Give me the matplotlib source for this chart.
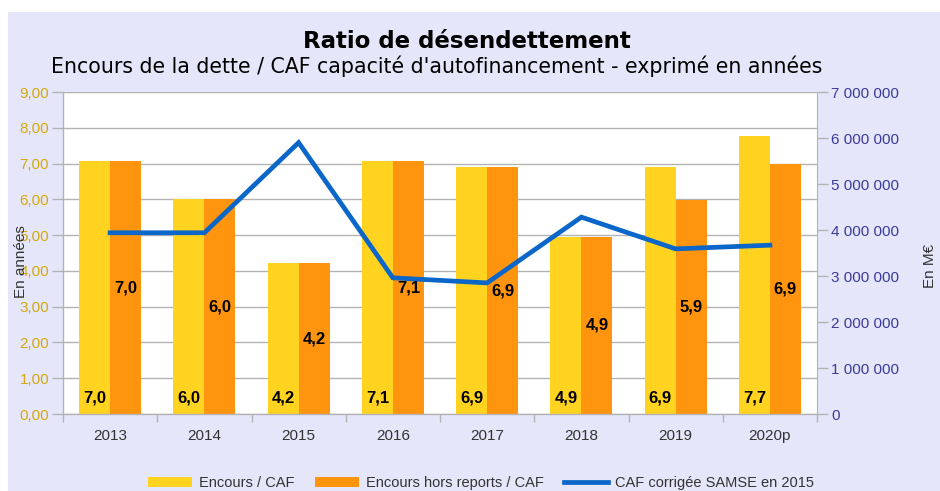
import matplotlib
matplotlib.use("Agg")
import matplotlib.pyplot as plt
from matplotlib.patches import Rectangle, Patch
from matplotlib.lines import Line2D
from matplotlib.ticker import FuncFormatter, MultipleLocator
import numpy as np

categories = ["2013", "2014", "2015", "2016", "2017", "2018", "2019", "2020p"]
encours_caf = [7.06, 6.0, 4.21, 7.06, 6.9, 4.96, 6.9, 7.77]
encours_hors_reports = [7.06, 6.0, 4.21, 7.06, 6.9, 4.96, 5.98, 7.0]
labels_encours = ["7,0", "6,0", "4,2", "7,1", "6,9", "4,9", "6,9", "7,7"]
labels_hors_reports = ["7,0", "6,0", "4,2", "7,1", "6,9", "4,9", "5,9", "6,9"]
caf_samse = [3940000, 3940000, 5900000, 2960000, 2850000, 4280000, 3590000, 3670000]

W, H = 940, 491
fig = plt.figure(figsize=(W / 100, H / 100), dpi=100, facecolor="white")
fig.patches.append(Rectangle((8 / W, 0), 1 - 8 / W, 1 - 12 / H, transform=fig.transFigure,
                             facecolor="#E6E6FA", edgecolor="none", zorder=-10))

L, R, T, B = 63, 817, 92, 414
ax = fig.add_axes([L / W, 1 - B / H, (R - L) / W, (B - T) / H])
ax.set_facecolor("white")
x = np.arange(len(categories))
bw = 0.33
YEL, ORA, BLU = "#FFD320", "#FF950E", "#0A66C8"
ax.bar(x - bw / 2, encours_caf, bw, color=YEL, zorder=2)
ax.bar(x + bw / 2, encours_hors_reports, bw, color=ORA, zorder=2)
ax.set_xlim(-0.5, len(categories) - 0.5)
ax.set_ylim(0, 9)
ax.yaxis.set_major_locator(MultipleLocator(1))
ax.yaxis.set_major_formatter(FuncFormatter(lambda v, p: f"{v:.2f}".replace(".", ",")))
ax.grid(axis="y", color="#B3B3B3", lw=1, zorder=0)
ax.set_axisbelow(True)
ax.set_xticks(x)
ax.set_xticklabels(categories, fontsize=11, family="Liberation Sans", color="#333333")
ax.set_xticks(np.arange(-0.5, len(categories)), minor=True)
ax.tick_params(axis="x", which="major", length=0, pad=11)
ax.tick_params(axis="x", which="minor", length=6, color="#B3B3B3", width=1)
ax.tick_params(axis="y", length=8, color="#B3B3B3", width=1, labelsize=11, labelcolor="#D2AA10", pad=2)
for lab in ax.get_yticklabels():
    lab.set_family("Liberation Sans")
for s in ["top", "right"]:
    ax.spines[s].set_visible(False)
for s in ["left", "bottom"]:
    ax.spines[s].set_color("#B3B3B3")
    ax.spines[s].set_linewidth(1)

ax2 = ax.twinx()
ax2.plot(x, caf_samse, color=BLU, lw=3.4, zorder=3, solid_joinstyle="miter")
ax2.set_ylim(0, 7000000)
ax2.yaxis.set_major_locator(MultipleLocator(1000000))
ax2.yaxis.set_major_formatter(FuncFormatter(lambda v, p: f"{int(v):,}".replace(",", " ")))
ax2.tick_params(axis="y", length=8, color="#B3B3B3", width=1, labelsize=11, labelcolor="#3A3A9A", pad=2)
for lab in ax2.get_yticklabels():
    lab.set_family("Liberation Sans")
for s in ["top", "left", "bottom"]:
    ax2.spines[s].set_visible(False)
ax2.spines["right"].set_color("#B3B3B3")

for i in range(len(categories)):
    ax2.text(x[i] - bw / 2, 0.45, labels_encours[i], transform=ax.transData, ha="center", va="center",
             fontsize=12, fontweight="bold", family="Liberation Sans", color="black", zorder=5)
    ax2.text(x[i] + bw / 2, encours_hors_reports[i] / 2, labels_hors_reports[i], transform=ax.transData,
             ha="center", va="center", fontsize=12, fontweight="bold", family="Liberation Sans",
             color="black", zorder=5)

fig.text(21 / W, 1 - 262 / H, "En années", rotation=90, ha="center", va="center",
         fontsize=11, family="Liberation Sans", color="#333333")
fig.text(930 / W, 1 - 266 / H, "En M€", rotation=90, ha="center", va="center",
         fontsize=11, family="Liberation Sans", color="#333333")

fig.text(467 / W, 1 - 41 / H, "Ratio de désendettement", ha="center", va="center",
         fontsize=16.5, fontweight="bold", family="DejaVu Sans", color="black")
fig.text(437 / W, 1 - 66 / H, "Encours de la dette / CAF capacité d'autofinancement - exprimé en années",
         ha="center", va="center", fontsize=14.8, family="DejaVu Sans", color="black")

handles = [Patch(facecolor=YEL, edgecolor="none"), Patch(facecolor=ORA, edgecolor="none"),
           Line2D([], [], color=BLU, lw=3.4)]
fig.legend(handles, ["Encours / CAF", "Encours hors reports / CAF", "CAF corrigée SAMSE en 2015"],
           loc="center", bbox_to_anchor=(481 / W, 1 - 483 / H), ncol=3, frameon=False,
           prop={"family": "Liberation Sans", "size": 10.5}, handlelength=3.0, handleheight=0.7,
           columnspacing=1.4, handletextpad=0.5, labelcolor="#333333")

fig.savefig("out.png", dpi=100, facecolor="white")
